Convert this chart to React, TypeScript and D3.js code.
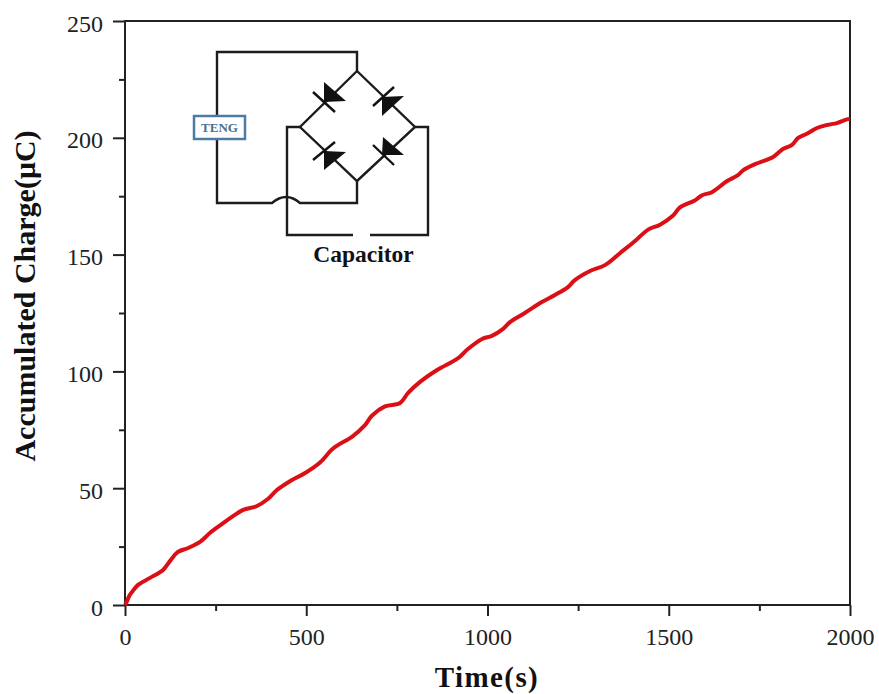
import { useEffect, useRef } from 'react'
import * as d3 from 'd3'

const times = [0, 4, 12, 24, 36, 69, 105, 125, 146, 174, 207, 234, 268, 295, 326, 364, 394, 419, 455, 497, 538, 574, 626, 662, 681, 717, 759, 781, 814, 861, 919, 946, 985, 1012, 1043, 1062, 1103, 1150, 1186, 1222, 1241, 1283, 1324, 1366, 1407, 1443, 1476, 1512, 1531, 1572, 1592, 1619, 1661, 1691, 1705, 1738, 1788, 1815, 1840, 1857, 1881, 1909, 1937, 1964, 1994, 2000]
const charge = [0, 1, 4, 6.5, 8.6, 11.6, 15, 19, 22.7, 24.4, 27, 30.8, 34.7, 37.7, 40.7, 42.4, 45.4, 49.2, 53, 56.5, 61, 67, 72, 77, 81, 85, 86.5, 90.8, 95.5, 100.6, 105.7, 109.6, 113.9, 115.2, 118.2, 121.1, 125, 129.7, 132.7, 136.1, 139.1, 143, 145.5, 150.7, 155.8, 160.7, 162.8, 166.7, 170.2, 173.2, 175.4, 176.7, 181.5, 184, 186.1, 188.7, 191.8, 195.2, 197, 200, 201.7, 204.2, 205.5, 206.3, 208, 208]

const xTicks = [0, 500, 1000, 1500, 2000]
const xMinor = [250, 750, 1250, 1750]
const yTicks = [0, 50, 100, 150, 200, 250]
const yMinor = [25, 75, 125, 175, 225]

const serif = '"Liberation Serif", "Times New Roman", serif'
const ink = '#222'

const App = () => {
  const chart = useRef<SVGSVGElement | null>(null)

  useEffect(() => {
    const svg = d3.select(chart.current)
    svg.selectAll('*').remove()

    const left = 125, right = 850, top = 21, bottom = 605
    const x = d3.scaleLinear().domain([0, 2000]).range([left, right])
    const y = d3.scaleLinear().domain([0, 250]).range([bottom, top])

    // frame
    svg.append('rect')
      .attr('x', left).attr('y', top)
      .attr('width', right - left).attr('height', bottom - top)
      .attr('fill', 'none').attr('stroke', ink).attr('stroke-width', 2)

    // axes
    const xAxis = svg.append('g')
      .attr('transform', `translate(0,${bottom})`)
      .call(d3.axisBottom(x).tickValues(xTicks).tickSize(11).tickPadding(12).tickFormat(d3.format('d')))
    const yAxis = svg.append('g')
      .attr('transform', `translate(${left},0)`)
      .call(d3.axisLeft(y).tickValues(yTicks).tickSize(12).tickPadding(10).tickFormat(d3.format('d')))
    svg.append('g')
      .attr('transform', `translate(0,${bottom})`)
      .call(d3.axisBottom(x).tickValues(xMinor).tickSize(6).tickFormat(() => ''))
    svg.append('g')
      .attr('transform', `translate(${left},0)`)
      .call(d3.axisLeft(y).tickValues(yMinor).tickSize(6).tickFormat(() => ''))

    svg.selectAll('.domain').remove()
    svg.selectAll('.tick line').attr('stroke', ink).attr('stroke-width', 2)
    for (const a of [xAxis, yAxis]) {
      a.selectAll('text')
        .attr('fill', ink)
        .style('font-family', serif)
        .style('font-size', '24px')
    }
    yAxis.selectAll('text').attr('dy', '0.42em')

    // charge curve
    const points = times.map((t, i) => [t, charge[i]] as [number, number])
    const line = d3.line<[number, number]>()
      .x(d => x(d[0]))
      .y(d => y(d[1]))
      .curve(d3.curveCatmullRom)
    svg.append('path')
      .attr('d', line(points))
      .attr('fill', 'none')
      .attr('stroke', '#da1016')
      .attr('stroke-width', 4)
      .attr('stroke-linejoin', 'round')

    // axis titles
    svg.append('text')
      .attr('x', 487).attr('y', 687)
      .attr('text-anchor', 'middle')
      .attr('fill', '#111')
      .style('font-family', serif)
      .style('font-weight', 'bold')
      .style('font-size', '29px')
      .style('letter-spacing', '1.4px')
      .text('Time(s)')
    svg.append('text')
      .attr('transform', 'translate(35,296) rotate(-90)')
      .attr('text-anchor', 'middle')
      .attr('fill', '#111')
      .style('font-family', serif)
      .style('font-weight', 'bold')
      .style('font-size', '30px')
      .text('Accumulated Charge(μC)')

    // rectifier inset
    const inset = svg.append('g')
    const wires = [
      'M217,115V52H357V71',
      'M217,139V203H272Q279,197 286,197T300,203H357V181',
      'M357,71L415,127L357,181L300,127L357,71',
      'M300,127H287V235H353',
      'M415,127H428V235H370',
    ]
    inset.selectAll('path.wire')
      .data(wires)
      .enter().append('path')
      .attr('class', 'wire')
      .attr('d', d => d)
      .attr('fill', 'none')
      .attr('stroke', '#1c1c1c')
      .attr('stroke-width', 2.4)

    const diodes = [
      { tri: 'M324,82L346,101L324,102Z', bar: 'M313,92L335,112' },
      { tri: 'M382,97L404,96L382,116Z', bar: 'M373,106L394,87' },
      { tri: 'M324,151L346,152L324,170Z', bar: 'M313,160L335,142' },
      { tri: 'M382,155L383,137L404,155Z', bar: 'M373,145L394,165' },
    ]
    inset.selectAll('path.tri')
      .data(diodes)
      .enter().append('path')
      .attr('class', 'tri')
      .attr('d', d => d.tri)
      .attr('fill', '#111')
    inset.selectAll('path.bar')
      .data(diodes)
      .enter().append('path')
      .attr('class', 'bar')
      .attr('d', d => d.bar)
      .attr('stroke', '#111')
      .attr('stroke-width', 2.4)

    inset.append('rect')
      .attr('x', 194).attr('y', 116)
      .attr('width', 51).attr('height', 23)
      .attr('fill', '#fff')
      .attr('stroke', '#4d7ba3')
      .attr('stroke-width', 2.5)
    inset.append('text')
      .attr('x', 219.5).attr('y', 131.5)
      .attr('text-anchor', 'middle')
      .attr('fill', '#4a6f8f')
      .style('font-family', serif)
      .style('font-weight', 'bold')
      .style('font-size', '13px')
      .text('TENG')
    inset.append('text')
      .attr('x', 363.5).attr('y', 262)
      .attr('text-anchor', 'middle')
      .attr('fill', '#111')
      .style('font-family', serif)
      .style('font-weight', 'bold')
      .style('font-size', '23.5px')
      .text('Capacitor')
  }, [])

  return (
    <svg
      ref={chart}
      width={879}
      height={694}
      style={{ position: 'absolute', left: 0, top: 0, background: '#fff' }}
    />
  )
}

export default App
